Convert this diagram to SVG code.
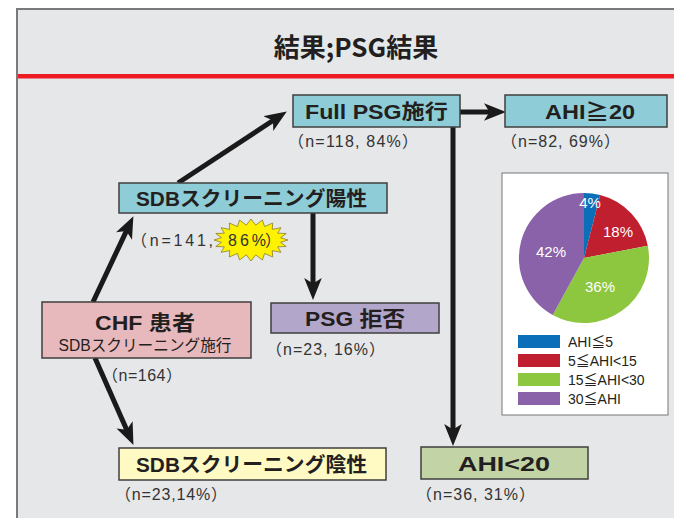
<svg xmlns="http://www.w3.org/2000/svg" width="674" height="518" viewBox="0 0 674 518">
<style>
.box{stroke:#3f3f3f;stroke-width:1.5}
.lbl{font-family:"Liberation Sans","Noto Sans CJK JP",sans-serif;font-weight:bold;fill:#231f20;text-anchor:middle}
.sm{font-family:"Liberation Sans","Noto Sans CJK JP",sans-serif;font-size:16px;fill:#333}
.pl{font-family:"Liberation Sans",sans-serif;font-size:15px;fill:#fff;text-anchor:middle}
.lg{font-family:"Liberation Sans","Noto Sans CJK JP",sans-serif;font-size:14px;fill:#231f20}
.arr{stroke:#1a1a1a;stroke-width:5;fill:none;marker-end:url(#ah)}
</style>
<defs>
<marker id="ah" markerUnits="userSpaceOnUse" markerWidth="22" markerHeight="18" refX="10" refY="8" orient="auto" viewBox="0 0 20 16">
<path d="M0,0 L20,8 L0,16 L5,8 Z" fill="#1a1a1a"/>
</marker>
</defs>
<rect width="674" height="518" fill="#fff"/>
<rect x="17" y="9" width="700" height="520" fill="#e6e7e9" stroke="#7a7a7a" stroke-width="2"/>
<rect x="18" y="74" width="656" height="4.5" fill="#ed1c24"/>
<text x="356" y="57" font-family="'Noto Sans CJK JP',sans-serif" font-size="26" font-weight="bold" fill="#231f20" text-anchor="middle">結果;PSG結果</text>

<g id="connectors">
<line class="arr" x1="93" y1="302" x2="128.7" y2="226.1"/>
<line class="arr" x1="178" y1="183" x2="277.6" y2="117.5"/>
<line class="arr" x1="460" y1="112" x2="495" y2="112"/>
<line class="arr" x1="453" y1="127" x2="453" y2="435"/>
<line class="arr" x1="313" y1="213" x2="313" y2="289"/>
<line class="arr" x1="95" y1="358" x2="129" y2="434.9"/>
</g>

<g id="full-psg">
<rect class="box" x="293" y="95" width="167" height="32" fill="#8ecdd8"/>
<text class="lbl" x="376.5" y="119" font-size="20" textLength="143" lengthAdjust="spacingAndGlyphs">Full PSG施行</text>
<text class="sm" x="288" y="147" textLength="130">（n=118, 84%）</text>
</g>

<g id="ahi-ge20">
<rect class="box" x="505" y="95" width="162" height="32" fill="#8ecdd8"/>
<text class="lbl" x="590" y="119" font-size="21" textLength="90" lengthAdjust="spacingAndGlyphs">AHI≧20</text>
<text class="sm" x="501" y="147" textLength="119">（n=82, 69%）</text>
</g>

<g id="sdb-positive">
<rect class="box" x="119" y="183" width="268" height="30" fill="#8ecdd8"/>
<text class="lbl" x="251.5" y="206" font-size="20" textLength="231" lengthAdjust="spacingAndGlyphs">SDBスクリーニング陽性</text>
<polygon points="288,240 280.6,242.3 286.2,246.5 277.7,246.8 280.9,252.3 272.2,250.6 272.7,257 264.6,253.4 262.4,260 255.7,254.8 251,261 246.3,254.8 239.6,260 237.4,253.4 229.3,257 229.8,250.6 221.1,252.3 224.3,246.8 215.8,246.5 221.4,242.3 214,240 221.4,237.7 215.8,233.5 224.3,233.2 221.1,227.7 229.8,229.4 229.3,223 237.4,226.6 239.6,220 246.3,225.2 251,219 255.7,225.2 262.4,220 264.6,226.6 272.7,223 272.2,229.4 280.9,227.7 277.7,233.2 286.2,233.5 280.6,237.7" fill="#fff200" stroke="#8a7d2a" stroke-width="0.8"/>
<text class="sm" x="131" y="246" textLength="82">（n=141,</text>
<text class="sm" x="228" y="246" fill="#ed1c24" font-size="18" textLength="38">86%</text>
<text class="sm" x="265" y="246">）</text>
</g>

<g id="psg-refuse">
<rect class="box" x="271" y="303" width="168" height="30" fill="#b3a6cb"/>
<text class="lbl" x="355" y="326" font-size="21" textLength="100" lengthAdjust="spacingAndGlyphs">PSG 拒否</text>
<text class="sm" x="266" y="355" textLength="119">（n=23, 16%）</text>
</g>

<g id="chf">
<rect class="box" x="42" y="302" width="209" height="56" fill="#e8b9bc"/>
<text class="lbl" x="145" y="330" font-size="21" textLength="100" lengthAdjust="spacingAndGlyphs">CHF 患者</text>
<text x="145" y="351" font-family="'Liberation Sans','Noto Sans CJK JP',sans-serif" font-size="16" fill="#231f20" text-anchor="middle" textLength="173" lengthAdjust="spacingAndGlyphs">SDBスクリーニング施行</text>
<text class="sm" x="102" y="381" textLength="80">（n=164）</text>
</g>

<g id="sdb-negative">
<rect class="box" x="119" y="448" width="267" height="32" fill="#fff9c4"/>
<text class="lbl" x="251.5" y="472" font-size="20" textLength="231" lengthAdjust="spacingAndGlyphs">SDBスクリーニング陰性</text>
<text class="sm" x="115" y="500" textLength="112">（n=23,14%）</text>
</g>

<g id="ahi-lt20">
<rect class="box" x="421" y="447" width="167" height="32" fill="#c2d4a6"/>
<text class="lbl" x="504" y="471" font-size="21" textLength="92" lengthAdjust="spacingAndGlyphs">AHI&lt;20</text>
<text class="sm" x="416" y="500" textLength="119">（n=36, 31%）</text>
</g>

<g id="pie-chart">
<rect x="502" y="173" width="166" height="242" fill="#fff" stroke="#777" stroke-width="1"/>
<path d="M584,258 L584,193 A65,65 0 0 1 600.2,195 Z" fill="#0a6fb8"/>
<path d="M584,258 L600.2,195 A65,65 0 0 1 647.8,245.8 Z" fill="#c01f2f"/>
<path d="M584,258 L647.8,245.8 A65,65 0 0 1 552.7,315 Z" fill="#8dc63f"/>
<path d="M584,258 L552.7,315 A65,65 0 0 1 584,193 Z" fill="#8a62aa"/>
<text class="pl" x="590" y="208">4%</text>
<text class="pl" x="618" y="237">18%</text>
<text class="pl" x="551" y="257">42%</text>
<text class="pl" x="600" y="292">36%</text>
<rect x="518" y="335" width="42" height="13" fill="#0a6fb8"/>
<rect x="518" y="354" width="42" height="13" fill="#c01f2f"/>
<rect x="518" y="373" width="42" height="13" fill="#8dc63f"/>
<rect x="518" y="392" width="42" height="13" fill="#8a62aa"/>
<text class="lg" x="568" y="347">AHI≦5</text>
<text class="lg" x="568" y="366">5≦AHI&lt;15</text>
<text class="lg" x="568" y="385">15≦AHI&lt;30</text>
<text class="lg" x="568" y="404">30≦AHI</text>
</g>
</svg>
